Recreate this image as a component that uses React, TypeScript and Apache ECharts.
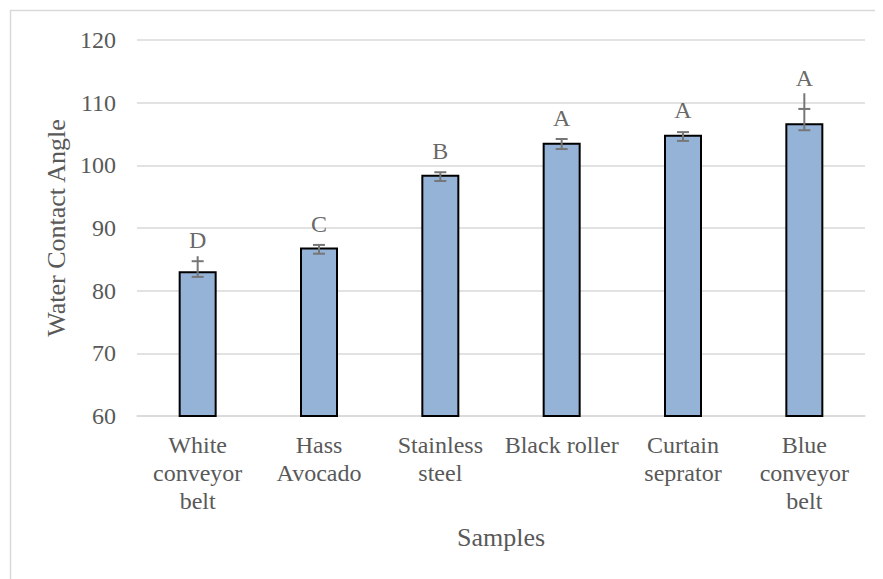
import React, { useEffect, useRef } from "react";
import * as echarts from "echarts";

const categories = [
  "White\nconveyor\nbelt",
  "Hass\nAvocado",
  "Stainless\nsteel",
  "Black roller",
  "Curtain\nseprator",
  "Blue\nconveyor\nbelt",
];
const means = [83.1, 86.9, 98.5, 103.6, 104.9, 106.7];
const errHigh = [84.7, 87.3, 98.9, 104.2, 105.3, 109.0];
const errLow = [82.2, 85.9, 97.5, 102.6, 103.9, 105.6];
const whiskerTop = [85.5, 87.3, 98.9, 104.2, 105.3, 111.5];
const letters = ["D", "C", "B", "A", "A", "A"];
const letterPos = [88.1, 90.6, 102.3, 107.6, 108.8, 113.9];
const yTicks = [60, 70, 80, 90, 100, 110, 120];

const FONT = "Liberation Serif";
const TEXT = "#595959";

export default function App() {
  const ref = useRef<HTMLDivElement>(null);
  useEffect(() => {
    if (!ref.current) return;
    const chart = echarts.init(ref.current, undefined, { renderer: "svg" });
    chart.setOption({
      animation: false,
      textStyle: { fontFamily: FONT },
      graphic: [
        {
          type: "rect",
          left: 0,
          top: 0,
          shape: { x: 0, y: 0, width: 900, height: 600 },
          style: { fill: "none", stroke: "#d9d9d9", lineWidth: 1.5 },
          silent: true,
        },
      ],
      grid: { left: 129, right: 18, top: 32, bottom: 163 },
      xAxis: {
        type: "category",
        data: categories,
        name: "Samples",
        nameLocation: "middle",
        nameGap: 108,
        nameTextStyle: { fontFamily: FONT, fontSize: 26, color: TEXT },
        axisLine: { show: true, lineStyle: { color: "#d9d9d9", width: 1.5 } },
        axisTick: { show: false },
        axisLabel: {
          fontFamily: FONT,
          fontSize: 24,
          color: TEXT,
          lineHeight: 28,
          margin: 15,
          interval: 0,
        },
      },
      yAxis: {
        type: "value",
        min: yTicks[0],
        max: yTicks[yTicks.length - 1],
        interval: 10,
        name: "Water Contact Angle",
        nameLocation: "middle",
        nameGap: 61,
        nameTextStyle: { fontFamily: FONT, fontSize: 26, color: TEXT },
        axisLine: { show: false },
        axisTick: { show: false },
        axisLabel: { fontFamily: FONT, fontSize: 24, color: TEXT, margin: 21 },
        splitLine: { lineStyle: { color: "#d9d9d9", width: 1.5 } },
      },
      series: [
        {
          type: "bar",
          data: means,
          barWidth: 38,
          itemStyle: { color: "#95b3d7", borderColor: "#000", borderWidth: 2 },
          z: 2,
        },
        {
          type: "custom",
          z: 3,
          data: categories.map((_, i) => [i, whiskerTop[i], errHigh[i], errLow[i]]),
          renderItem: (params: any, api: any) => {
            const i = api.value(0);
            const top = api.coord([i, api.value(1)]);
            const hi = api.coord([i, api.value(2)]);
            const lo = api.coord([i, api.value(3)]);
            const hw = 6;
            const style = { stroke: "#767676", lineWidth: 2 };
            return {
              type: "group",
              children: [
                { type: "line", shape: { x1: top[0], y1: top[1], x2: lo[0], y2: lo[1] }, style },
                { type: "line", shape: { x1: hi[0] - hw, y1: hi[1], x2: hi[0] + hw, y2: hi[1] }, style },
                { type: "line", shape: { x1: lo[0] - hw, y1: lo[1], x2: lo[0] + hw, y2: lo[1] }, style },
              ],
            };
          },
        },
        {
          type: "scatter",
          symbolSize: 0,
          data: categories.map((_, i) => [i, letterPos[i]]),
          label: {
            show: true,
            position: "inside",
            formatter: (p: any) => letters[p.dataIndex],
            fontFamily: FONT,
            fontSize: 24,
            color: "#404040",
          },
          z: 4,
        },
      ],
    });
    return () => chart.dispose();
  }, []);
  return <div ref={ref} style={{ width: 875, height: 571 }} />;
}
